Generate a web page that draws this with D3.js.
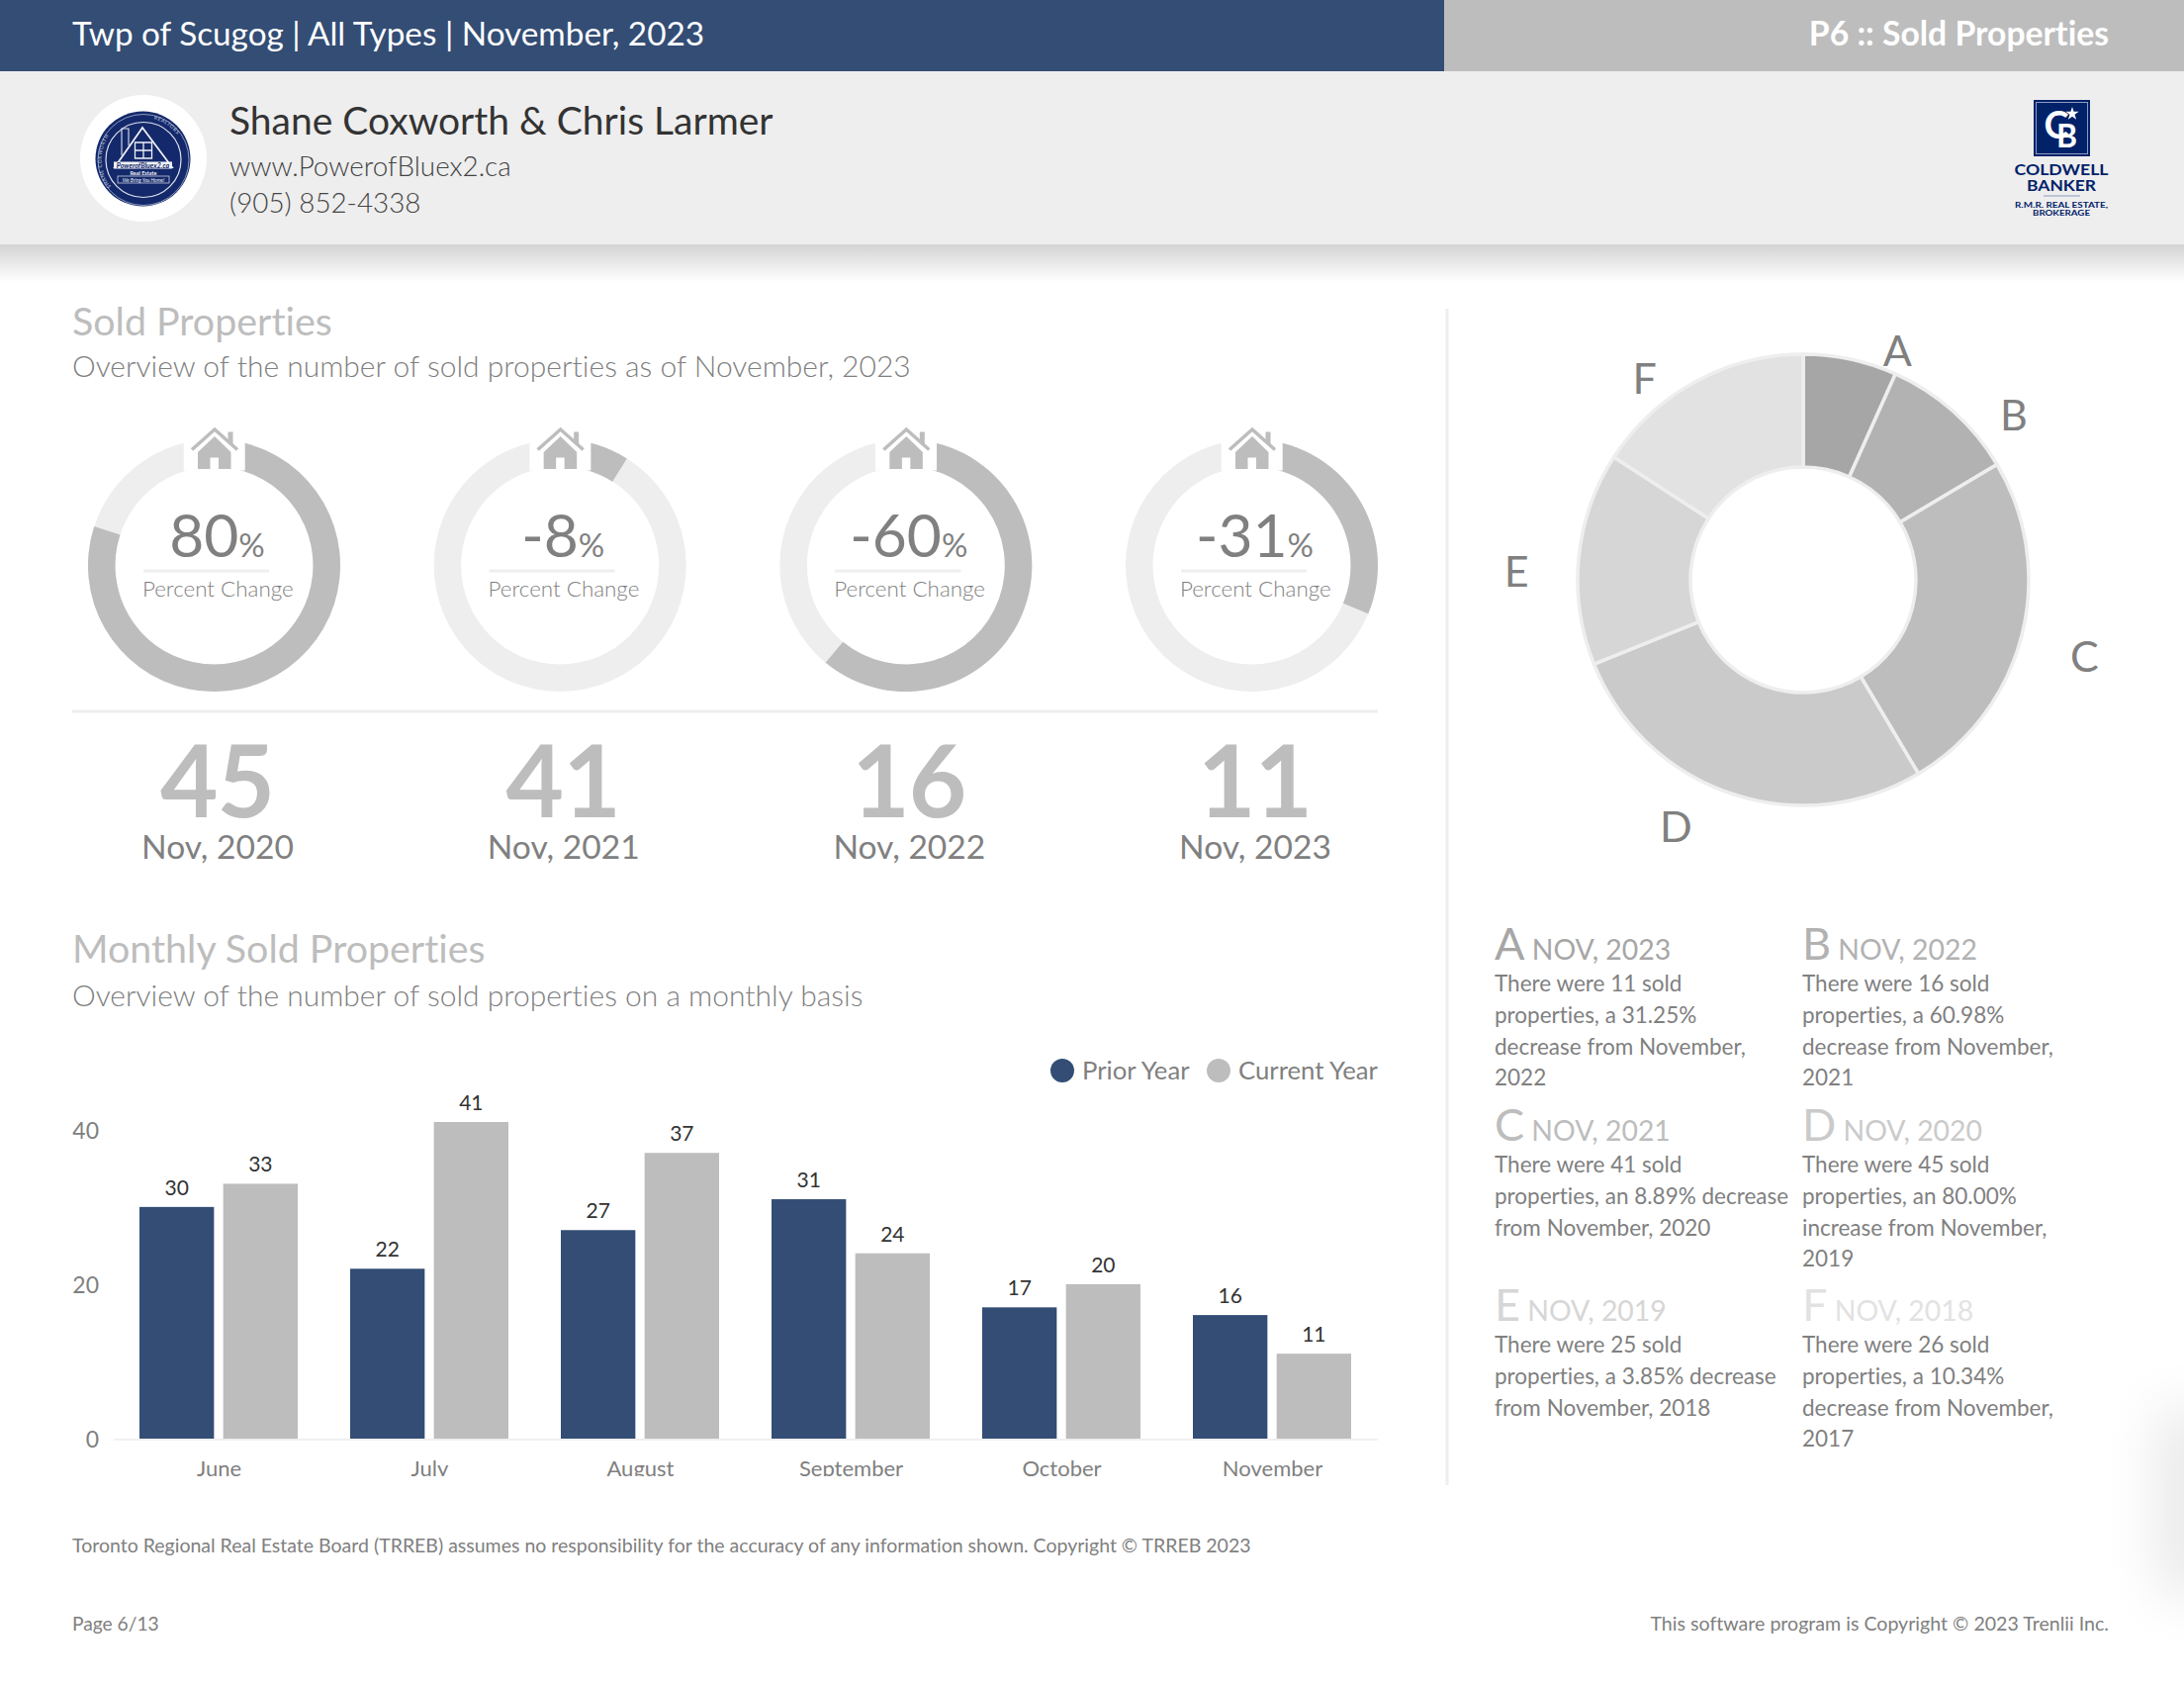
<!DOCTYPE html>
<html><head><meta charset="utf-8">
<script src="https://cdn.jsdelivr.net/npm/d3@7/dist/d3.min.js"></script>
<style>
html,body{margin:0;padding:0;background:#fff}
svg{display:block}
text{font-family:Lato,"Open Sans",sans-serif;font-variant-ligatures:none}
</style></head><body>
<svg id="chart" width="2208" height="1702"></svg>
<script>
// ---------- data ----------
const headerTitle = "Twp of Scugog | All Types | November, 2023";
const headerPage = "P6 :: Sold Properties";
const agentName = "Shane Coxworth & Chris Larmer";
const agentSite = "www.PowerofBluex2.ca";
const agentPhone = "(905) 852-4338";
const ringPercents = [80.00, -8.89, -60.98, -31.25];
const ringCounts = [45, 41, 16, 11];
const ringDates = ["Nov, 2020", "Nov, 2021", "Nov, 2022", "Nov, 2023"];
const months = ["June", "July", "August", "September", "October", "November"];
const priorYear = [30, 22, 27, 31, 17, 16];
const currentYear = [33, 41, 37, 24, 20, 11];
const yTicks = [0, 20, 40];
const legendLabels = ["Prior Year", "Current Year"];
const sliceLetters = ["A", "B", "C", "D", "E", "F"];
const sliceValues = [11, 16, 41, 45, 25, 26];
const sliceDates = ["NOV, 2023", "NOV, 2022", "NOV, 2021", "NOV, 2020", "NOV, 2019", "NOV, 2018"];
const sliceNotes = [
  ["There were 11 sold", "properties, a 31.25%", "decrease from November,", "2022"],
  ["There were 16 sold", "properties, a 60.98%", "decrease from November,", "2021"],
  ["There were 41 sold", "properties, an 8.89% decrease", "from November, 2020"],
  ["There were 45 sold", "properties, an 80.00%", "increase from November,", "2019"],
  ["There were 25 sold", "properties, a 3.85% decrease", "from November, 2018"],
  ["There were 26 sold", "properties, a 10.34%", "decrease from November,", "2017"]
];
const footerSource = "Toronto Regional Real Estate Board (TRREB) assumes no responsibility for the accuracy of any information shown. Copyright © TRREB 2023";
const footerPage = "Page 6/13";
const footerCopy = "This software program is Copyright © 2023 Trenlii Inc.";

// ---------- style ----------
const BLUE = "#334d75", GREY = "#bdbdbd", LIGHT = "#eeeeee", TEXT = "#808080", DARK = "#333333", NAVY = "#14296b";
const sliceColors = ["#a6a6a6", "#b2b2b2", "#bdbdbd", "#cacaca", "#d6d6d6", "#e2e2e2"];
const svg = d3.select("#chart");
const defs = svg.append("defs");
function txt(g, x, y, s, size, fill, weight, anchor) {
  return g.append("text").attr("x", x).attr("y", y).text(s)
    .attr("font-size", size).attr("fill", fill)
    .attr("font-weight", weight || 400).attr("text-anchor", anchor || "start");
}

// faint page shadow on the right edge
const blur = defs.append("filter").attr("id", "edgeblur").attr("x", "-200%").attr("y", "-100%").attr("width", "500%").attr("height", "300%");
blur.append("feGaussianBlur").attr("stdDeviation", 28);
svg.append("rect").attr("x", 2185).attr("y", 1425).attr("width", 60).attr("height", 185).attr("fill", "#e6e6e6").attr("filter", "url(#edgeblur)");

// ---------- header ----------
svg.append("rect").attr("width", 1460).attr("height", 72).attr("fill", BLUE);
svg.append("rect").attr("x", 1460).attr("width", 748).attr("height", 72).attr("fill", GREY);
svg.append("rect").attr("y", 72).attr("width", 2208).attr("height", 175).attr("fill", LIGHT);
const shade = defs.append("linearGradient").attr("id", "shade").attr("x1", 0).attr("x2", 0).attr("y1", 0).attr("y2", 1);
shade.append("stop").attr("offset", 0).attr("stop-color", "#d3d3d3");
shade.append("stop").attr("offset", 1).attr("stop-color", "#ffffff");
svg.append("rect").attr("y", 247).attr("width", 2208).attr("height", 38).attr("fill", "url(#shade)");
txt(svg, 73, 46, headerTitle, 33.3, "#fff");
txt(svg, 2132, 46, headerPage, 33.7, "#fff", 700, "end");
txt(svg, 232, 136, agentName, 39, DARK);
txt(svg, 232, 178, agentSite, 27.8, "#444", 300);
txt(svg, 232, 215, agentPhone, 27.8, "#444", 300);

// left logo
const logo = svg.append("g").attr("transform", "translate(145,160)");
logo.append("circle").attr("r", 64).attr("fill", "#fff");
logo.append("circle").attr("cx", -0.5).attr("cy", 0.5).attr("r", 48).attr("fill", NAVY);
logo.append("circle").attr("cy", 1.5).attr("r", 46).attr("fill", "none").attr("stroke", "#aab4d0").attr("stroke-width", 0.8);
logo.append("circle").attr("cy", 1.5).attr("r", 38).attr("fill", "none").attr("stroke", "#dfe3ee").attr("stroke-width", 1.2);
logo.append("path").attr("d", "M-29,9 L-1,-31 L29,9 Z").attr("fill", "none").attr("stroke", "#eef0f6").attr("stroke-width", 1.8);
logo.append("path").attr("d", "M-22,-3 V-30 H-15 V-13").attr("fill", "none").attr("stroke", "#dfe3ee").attr("stroke-width", 1.1);
logo.append("path").attr("d", "M-8.5,-16 H8.5 V0 H-8.5 Z M0,-16 V0 M-8.5,-8 H8.5").attr("fill", "none").attr("stroke", "#eef0f6").attr("stroke-width", 1.3);
logo.append("rect").attr("x", -30).attr("y", 3.5).attr("width", 59).attr("height", 7).attr("fill", "#f2f3f8");
txt(logo, -0.5, 9.5, "PowerofBluex2.ca", 7, NAVY, 700, "middle").attr("font-style", "italic");
txt(logo, 0, 16.5, "Real Estate", 5.5, "#eef0f6", 700, "middle");
logo.append("rect").attr("x", -26).attr("y", 18).attr("width", 52).attr("height", 7).attr("fill", "none").attr("stroke", "#dfe3ee").attr("stroke-width", 0.7);
txt(logo, 0, 23.5, "We Bring You Home!", 5, "#eef0f6", 400, "middle").attr("font-style", "italic");
defs.append("path").attr("id", "logoRing").attr("d", "M0,44 A42.5,42.5 0 1 1 0,-41 A42.5,42.5 0 1 1 0,44");
const ringText = (s, o) => logo.append("text").attr("font-size", 5).attr("fill", "#cfd5e6").attr("letter-spacing", 0.6)
  .append("textPath").attr("href", "#logoRing").attr("startOffset", o).text(s);
ringText("SHANE COXWORTH", "14%");
ringText("REALTORS", "54%");

// right logo
const cb = svg.append("g");
const CBNAVY = "#012169";
cb.append("rect").attr("x", 2056).attr("y", 101).attr("width", 57).attr("height", 57).attr("fill", CBNAVY);
cb.append("rect").attr("x", 2058.5).attr("y", 103.5).attr("width", 52).attr("height", 52).attr("fill", "none").attr("stroke", "#8d9bc0").attr("stroke-width", 1);
txt(cb, 2079, 140, "C", 38, "#fff", 700, "middle");
txt(cb, 2089.5, 149, "B", 32, "#fff", 700, "middle");
cb.append("path").attr("d", d3.symbol(d3.symbolStar, 55)()).attr("transform", "translate(2095,115)").attr("fill", "#fff");
const logoLine = (y, s, size, len) => txt(cb, 2084, y, s, size, CBNAVY, 700, "middle")
  .attr("font-family", "DejaVu Sans").attr("textLength", len).attr("lengthAdjust", "spacingAndGlyphs");
logoLine(177, "COLDWELL", 14.5, 95);
logoLine(192.5, "BANKER", 14.5, 70);
cb.append("line").attr("x1", 2066).attr("x2", 2103).attr("y1", 198).attr("y2", 198).attr("stroke", "#8d9bc0");
logoLine(209.5, "R.M.R. REAL ESTATE,", 8.2, 94);
logoLine(218, "BROKERAGE", 8.2, 58);

// ---------- section titles ----------
txt(svg, 73, 338.5, "Sold Properties", 39.4, GREY);
txt(svg, 73, 381, "Overview of the number of sold properties as of November, 2023", 30, TEXT, 300);
txt(svg, 73, 972.5, "Monthly Sold Properties", 39.4, GREY);
txt(svg, 73, 1017, "Overview of the number of sold properties on a monthly basis", 30, TEXT, 300);
svg.append("line").attr("x1", 73).attr("x2", 1393).attr("y1", 719).attr("y2", 719).attr("stroke", LIGHT).attr("stroke-width", 3);
svg.append("line").attr("x1", 1463).attr("x2", 1463).attr("y1", 312).attr("y2", 1501).attr("stroke", LIGHT).attr("stroke-width", 3);

// ---------- percent rings ----------
const ringX = d3.scalePoint().domain(d3.range(ringPercents.length)).range([216.5, 1265.5]);
const ringAngle = d3.scaleLinear().domain([0, 100]).range([0, 2 * Math.PI]);
const ringArc = d3.arc().innerRadius(100).outerRadius(127.5);
ringPercents.forEach((p, i) => {
  const g = svg.append("g").attr("transform", `translate(${ringX(i)},571.5)`);
  g.append("path").attr("d", ringArc({startAngle: 0, endAngle: 2 * Math.PI})).attr("fill", LIGHT);
  g.append("path").attr("d", ringArc({startAngle: 0, endAngle: ringAngle(Math.abs(p))})).attr("fill", GREY);
  g.append("rect").attr("x", -30.8).attr("y", -140).attr("width", 62).attr("height", 44).attr("fill", "#fff");
  // house
  g.append("path").attr("d", "M-22.5,-117 L0.5,-137.5 L23.5,-117").attr("fill", "none").attr("stroke", GREY).attr("stroke-width", 3.5);
  g.append("path").attr("d", "M14,-135 H19 V-121.5 L14,-126 Z").attr("fill", GREY);
  g.append("path").attr("d", "M-16.5,-114.5 L0.5,-130.5 L17,-114.5 V-97.5 H4.5 V-109 H-4 V-97.5 H-16.5 Z").attr("fill", GREY);
  const t = g.append("text").attr("x", 3).attr("y", -8.5).attr("text-anchor", "middle").attr("fill", TEXT);
  t.append("tspan").text(Math.trunc(p)).attr("font-size", 60.5);
  t.append("tspan").text("%").attr("font-size", 33);
  g.append("line").attr("x1", -71.5).attr("x2", 55.5).attr("y1", 5.5).attr("y2", 5.5).attr("stroke", LIGHT).attr("stroke-width", 3);
  txt(g, 3.8, 31.5, "Percent Change", 22.4, TEXT, 300, "middle");
  txt(g, 3, 254, ringCounts[i], 101, GREY, 700, "middle").attr("letter-spacing", -1);
  txt(g, 3.5, 296.5, ringDates[i], 33.6, TEXT, 400, "middle");
});

// ---------- donut ----------
const donut = svg.append("g").attr("transform", "translate(1823,586)");
const pie = d3.pie().sort(null)(sliceValues);
const donutArc = d3.arc().innerRadius(114).outerRadius(228);
donut.selectAll("path.slice").data(pie).join("path").attr("class", "slice")
  .attr("d", donutArc).attr("fill", (d, i) => sliceColors[i]).attr("stroke", LIGHT).attr("stroke-width", 3.5);
// labels sit beyond the rim, pushed off the mid angle as in the reference
const labelRadius = [250, 270, 295, 281, 290, 259];
const labelTurn = [0.18, 0.18, 0.02, 0.15, -0.067, -0.17];
pie.forEach((d, i) => {
  const a = (d.startAngle + d.endAngle) / 2 + labelTurn[i];
  const [x, y] = d3.pointRadial(a, labelRadius[i]);
  txt(donut, x, y + 15, sliceLetters[i], 43, TEXT, 400, "middle");
});

// ---------- donut notes ----------
const noteCols = [1511, 1822], noteRows = [970, 1153, 1335];
sliceLetters.forEach((l, i) => {
  const x = noteCols[i % 2], y = noteRows[Math.floor(i / 2)];
  const t = svg.append("text").attr("x", x).attr("y", y).attr("fill", sliceColors[i]);
  t.append("tspan").text(l).attr("font-size", 45);
  t.append("tspan").text(" " + sliceDates[i]).attr("font-size", 28.4);
  sliceNotes[i].forEach((line, j) => txt(svg, x, y + 32.3 + j * 31.6, line, 22.5, TEXT));
});

// ---------- bar chart ----------
const barX = d3.scaleBand().domain(months).range([115, 1393]);
const barY = d3.scaleLinear().domain([0, 40]).range([1454, 1141.8]);
const barInner = d3.scaleBand().domain([0, 1]).range([26, 186]).paddingInner(0.11);
const series = [priorYear, currentYear], seriesColors = [BLUE, GREY];
const bars = svg.append("g");
series.forEach((vals, s) => {
  bars.selectAll(null).data(vals).join("rect")
    .attr("x", (d, i) => barX(months[i]) + barInner(s))
    .attr("width", barInner.bandwidth())
    .attr("y", d => barY(d))
    .attr("height", d => barY(0) - barY(d))
    .attr("fill", seriesColors[s]);
  bars.selectAll(null).data(vals).join("text")
    .attr("x", (d, i) => barX(months[i]) + barInner(s) + barInner.bandwidth() / 2)
    .attr("y", d => barY(d) - 12)
    .attr("text-anchor", "middle").attr("font-size", 21).attr("fill", DARK).text(d => d);
});
svg.append("line").attr("x1", 115).attr("x2", 1393).attr("y1", 1454.9).attr("y2", 1454.9).attr("stroke", LIGHT).attr("stroke-width", 1.8);
const yAxis = svg.append("g").attr("transform", "translate(100,1)").call(d3.axisLeft(barY).tickValues(yTicks).tickSize(0).tickPadding(0));
yAxis.select(".domain").remove();
yAxis.selectAll("text").attr("font-size", 23).attr("fill", TEXT).attr("font-family", "Lato");
defs.append("clipPath").attr("id", "xclip").append("rect").attr("x", 100).attr("y", 1460).attr("width", 1300).attr("height", 32);
const xAxis = svg.append("g").attr("clip-path", "url(#xclip)").append("g").attr("transform", "translate(0,1476)")
  .call(d3.axisBottom(barX).tickSize(0).tickPadding(0));
xAxis.select(".domain").remove();
xAxis.selectAll("text").attr("font-size", 22).attr("fill", TEXT).attr("font-family", "Lato");

// legend
const legendPos = [[1074, 1094], [1232, 1252]];
legendLabels.forEach((l, i) => {
  svg.append("circle").attr("cx", legendPos[i][0]).attr("cy", 1082).attr("r", 12).attr("fill", seriesColors[i]);
  txt(svg, legendPos[i][1], 1091, l, 25.7, TEXT);
});

// ---------- footer ----------
txt(svg, 73, 1569, footerSource, 19.5, TEXT);
txt(svg, 73, 1648, footerPage, 19.2, TEXT);
txt(svg, 2132, 1648, footerCopy, 19.6, TEXT, 400, "end");
</script></body></html>
